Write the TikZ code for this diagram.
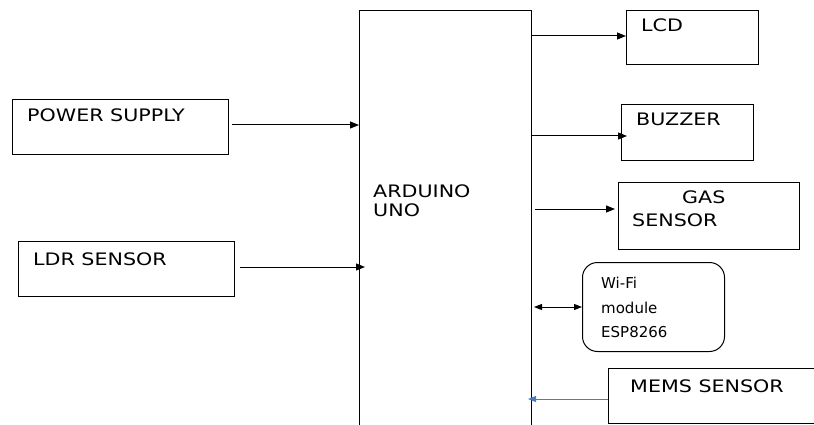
\documentclass[tikz,border=0pt]{standalone}
\usepackage{fontspec}
\setmainfont{DejaVu Sans}[FakeStretch=1.2]
\newfontfamily\wififont{DejaVu Sans}
\usetikzlibrary{arrows.meta}
\definecolor{memsblue}{RGB}{74,126,187}
\tikzset{
  blk/.style={draw, line width=1pt, anchor=north west, inner sep=0pt},
  rblk/.style={blk, rounded corners=15pt},
  lbl/.style={anchor=base west, inner sep=0pt, font=\fontsize{17.2}{20}\selectfont},
  wlbl/.style={anchor=base west, inner sep=0pt, font=\wififont\fontsize{15}{17}\selectfont},
  arr/.style={line width=1pt, -{Triangle[length=9pt,width=7pt]}},
  darr/.style={line width=1pt, {Triangle[length=8pt,width=6pt]}-{Triangle[length=8pt,width=6pt]}},
  barr/.style={line width=1pt, draw=memsblue, -{Triangle[length=8pt,width=6pt]}}
}
\begin{document}
\begin{tikzpicture}[x=1pt,y=-1pt]
\useasboundingbox (0,0) rectangle (814,425);
\clip (0,0) rectangle (814,425);
% boxes
\node[blk, minimum width=172, minimum height=440] (ard) at (359,10) {};
\node[blk, minimum width=216, minimum height=55] (ps) at (12,99) {};
\node[blk, minimum width=216, minimum height=55] (ldr) at (18,241) {};
\node[blk, minimum width=132, minimum height=54] (lcd) at (626,10) {};
\node[blk, minimum width=132, minimum height=56] (buz) at (621,104) {};
\node[blk, minimum width=181, minimum height=67] (gas) at (618,182) {};
\node[rblk, minimum width=142, minimum height=89] (wifi) at (582,262) {};
\node[blk, minimum width=230, minimum height=55] (mems) at (608,368) {};
% labels
\node[lbl] (tps) at (27,122) {POWER SUPPLY};
\node[lbl] (tldr) at (33,265) {LDR SENSOR};
\node[lbl] (tlcd) at (641,32) {LCD};
\node[lbl] (tbuz) at (636,126) {BUZZER};
\node[lbl] (tgas1) at (682,204) {GAS};
\node[lbl] (tgas2) at (632,226) {SENSOR};
\node[wlbl] (tw1) at (601,288) {Wi-Fi};
\node[wlbl] (tw2) at (601,313) {module};
\node[wlbl] (tw3) at (601,337) {ESP8266};
\node[lbl] (tmems) at (630,392) {MEMS SENSOR};
\node[lbl] (tard1) at (373,197) {ARDUINO};
\node[lbl] (tard2) at (373,216) {UNO};
% connectors
\draw[arr] ([xshift=3pt]ps.east |- 0,125) -- (ard.west |- 0,125);
\draw[arr] ([xshift=5pt]ldr.east |- 0,267) -- ([xshift=6pt]ard.west |- 0,267);
\draw[arr] (ard.east |- 0,36) -- (lcd.west |- 0,36);
\draw[arr] (ard.east |- 0,136) -- ([xshift=6pt]buz.west |- 0,136);
\draw[arr] ([xshift=3pt]ard.east |- 0,209) -- ([xshift=-3pt]gas.west |- 0,209);
\draw[darr] ([xshift=2pt]ard.east |- 0,307) -- (wifi.west |- 0,307);
\draw[barr] (mems.west |- 0,399) -- ([xshift=-4pt]ard.east |- 0,399);
\end{tikzpicture}
\end{document}
